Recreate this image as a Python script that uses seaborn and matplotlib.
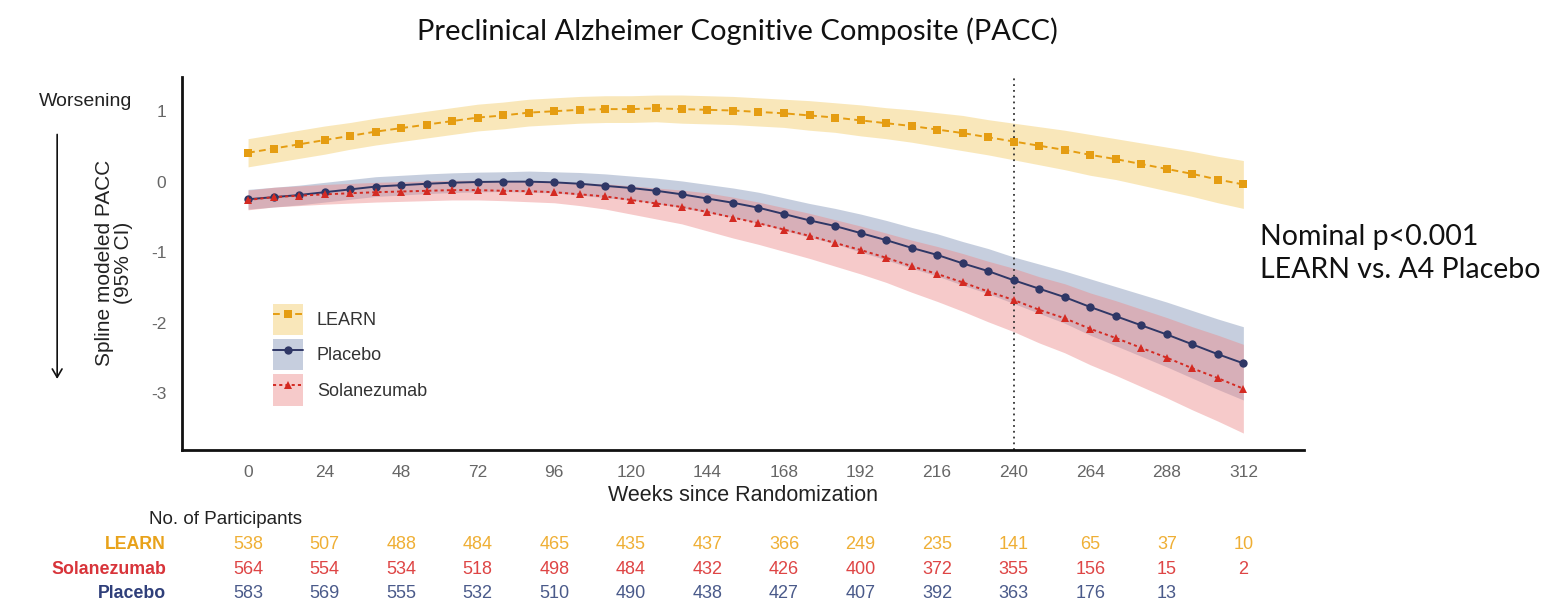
import numpy as np
import pandas as pd
import matplotlib
matplotlib.use("Agg")
import matplotlib.pyplot as plt
import matplotlib.transforms as mtransforms
from matplotlib.patches import Patch
from matplotlib.lines import Line2D
import seaborn as sns

# ---------------- data ----------------
weeks = list(range(0, 313, 8))

learn_mean = [0.41, 0.47, 0.53, 0.59, 0.65, 0.71, 0.76, 0.81, 0.86, 0.91, 0.94, 0.98, 1.00, 1.02,
              1.03, 1.03, 1.04, 1.03, 1.02, 1.01, 0.99, 0.97, 0.94, 0.91, 0.87, 0.83, 0.79, 0.74,
              0.69, 0.63, 0.57, 0.51, 0.45, 0.38, 0.32, 0.25, 0.18, 0.11, 0.03, -0.04]
placebo_mean = [-0.25, -0.22, -0.19, -0.15, -0.11, -0.07, -0.05, -0.03, -0.015, -0.005, 0.0, 0.0,
                -0.01, -0.03, -0.06, -0.09, -0.13, -0.18, -0.24, -0.30, -0.37, -0.46, -0.55, -0.63,
                -0.73, -0.83, -0.94, -1.04, -1.16, -1.27, -1.40, -1.52, -1.64, -1.78, -1.91, -2.04,
                -2.17, -2.31, -2.45, -2.58]
sola_mean = [-0.26, -0.22, -0.20, -0.18, -0.165, -0.15, -0.14, -0.13, -0.12, -0.12, -0.13, -0.135,
             -0.15, -0.18, -0.21, -0.26, -0.31, -0.36, -0.43, -0.51, -0.59, -0.68, -0.77, -0.87,
             -0.97, -1.08, -1.20, -1.31, -1.43, -1.56, -1.68, -1.82, -1.94, -2.09, -2.22, -2.36,
             -2.50, -2.65, -2.79, -2.94]

learn_hw = [0.20, 0.20, 0.20, 0.20, 0.19, 0.19, 0.19, 0.19, 0.19, 0.19, 0.19, 0.19, 0.19, 0.19,
            0.19, 0.19, 0.19, 0.20, 0.20, 0.20, 0.20, 0.20, 0.21, 0.21, 0.22, 0.22, 0.23, 0.24,
            0.25, 0.25, 0.26, 0.27, 0.28, 0.29, 0.29, 0.30, 0.31, 0.32, 0.33, 0.34]
placebo_hw = [0.14, 0.14, 0.14, 0.14, 0.14, 0.14, 0.14, 0.14, 0.14, 0.14, 0.14, 0.15, 0.15, 0.16,
              0.17, 0.17, 0.18, 0.19, 0.20, 0.21, 0.22, 0.23, 0.24, 0.25, 0.27, 0.28, 0.29, 0.30,
              0.31, 0.32, 0.33, 0.35, 0.37, 0.40, 0.42, 0.44, 0.46, 0.48, 0.50, 0.52]
sola_hw = [0.14, 0.14, 0.14, 0.14, 0.14, 0.14, 0.14, 0.14, 0.14, 0.14, 0.14, 0.15, 0.15, 0.16,
           0.18, 0.20, 0.22, 0.24, 0.27, 0.29, 0.30, 0.31, 0.32, 0.33, 0.34, 0.35, 0.37, 0.39,
           0.41, 0.43, 0.45, 0.47, 0.49, 0.51, 0.53, 0.55, 0.57, 0.59, 0.61, 0.63]

groups = ["LEARN", "Placebo", "Solanezumab"]

table_weeks = list(range(0, 313, 24))
table_rows = ["LEARN", "Solanezumab", "Placebo"]
n_learn = [538, 507, 488, 484, 465, 435, 437, 366, 249, 235, 141, 65, 37, 10]
n_sola = [564, 554, 534, 518, 498, 484, 432, 426, 400, 372, 355, 156, 15, 2]
n_placebo = [583, 569, 555, 532, 510, 490, 438, 427, 407, 392, 363, 176, 13]

title = "Preclinical Alzheimer Cognitive Composite (PACC)"
xlabel = "Weeks since Randomization"
ylabel = "Spline modeled PACC\n(95% CI)"
note = "Nominal p<0.001\nLEARN vs. A4 Placebo"

# ---------------- style ----------------
line_col = {"LEARN": "#E59D12", "Placebo": "#2F3766", "Solanezumab": "#D42A22"}
band_col = {"LEARN": "#F0C24A", "Placebo": "#8E9FBE", "Solanezumab": "#EC8A8A"}
band_alpha = {"LEARN": 0.38, "Placebo": 0.5, "Solanezumab": 0.45}
label_col = {"LEARN": "#E8A21A", "Solanezumab": "#D8343A", "Placebo": "#2F3F7A"}
num_col = {"LEARN": "#EFAF35", "Solanezumab": "#DE4545", "Placebo": "#4A5A8A"}
markers = {"LEARN": "s", "Placebo": "o", "Solanezumab": "^"}
dashes = {"LEARN": (3.5, 2.2), "Placebo": "", "Solanezumab": (1.6, 1.6)}

sns.set_theme(style="white")
plt.rcParams["axes.unicode_minus"] = False
plt.rcParams["font.family"] = ["Liberation Sans", "DejaVu Sans"]

df = pd.DataFrame({
    "week": weeks * 3,
    "pacc": learn_mean + placebo_mean + sola_mean,
    "hw": learn_hw + placebo_hw + sola_hw,
    "group": ["LEARN"] * len(weeks) + ["Placebo"] * len(weeks) + ["Solanezumab"] * len(weeks),
})

fig = plt.figure(figsize=(15.45, 6.04), dpi=100)
ax = fig.add_axes([0.1176, 0.255, 0.7264, 0.618])

for g in ["LEARN", "Placebo", "Solanezumab"]:
    sub = df[df.group == g]
    ax.fill_between(sub.week, sub.pacc - sub.hw, sub.pacc + sub.hw,
                    color=band_col[g], alpha=band_alpha[g], lw=0, zorder=1)

sns.lineplot(data=df, x="week", y="pacc", hue="group", style="group",
             palette=line_col, markers=markers, dashes=dashes, markersize=6,
             markeredgewidth=0, linewidth=1.4, legend=False, ax=ax, zorder=3)

ax.axvline(240, color="#333333", ls=(0, (1, 2.2)), lw=1.3, zorder=2)

ax.set_xlim(-20.8, 331)
ax.set_ylim(-3.81, 1.49)
ax.set_xticks(table_weeks)
ax.set_yticks([-3, -2, -1, 0, 1])
ax.set_yticklabels(["-3", "-2", "-1", "0", "1"])
for s in ["top", "right"]:
    ax.spines[s].set_visible(False)
for s in ["left", "bottom"]:
    ax.spines[s].set_linewidth(2.0)
    ax.spines[s].set_color("#111111")
ax.tick_params(axis="both", direction="out", length=5, width=1.6, color="#222222",
               labelcolor="#666666", labelsize=12.5, pad=6)
ax.set_xlabel("")
ax.set_ylabel(ylabel, fontsize=15, color="#222222", linespacing=1.0)
ax.yaxis.set_label_coords(-0.043, 0.5)

# legend
handles = []
for g in groups:
    h = (Patch(facecolor=band_col[g], alpha=band_alpha[g], edgecolor="none"),
         Line2D([], [], color=line_col[g], marker=markers[g], markersize=6, markeredgewidth=0,
                lw=1.4, dashes=dashes[g] if dashes[g] else (None, None)))
    handles.append(h)
leg = ax.legend(handles, groups, loc="upper left", bbox_to_anchor=(0.081, 0.392),
                frameon=False, fontsize=13, handlelength=1.7, handleheight=2.3,
                labelspacing=0.22, handletextpad=0.75, borderpad=0, borderaxespad=0)
for t in leg.get_texts():
    t.set_color("#333333")

# figure texts
fig.text(0.4775, 0.948, title, ha="center", va="center", fontsize=21,
         family=["Lato", "DejaVu Sans"], color="#111111")
fig.text(0.8155, 0.58, note, ha="left", va="center", fontsize=20.5,
         family=["Lato", "DejaVu Sans"], color="#111111", linespacing=1.35)
fig.text(0.025, 0.832, "Worsening", ha="left", va="center", fontsize=14, color="#222222")
fig.add_artist(matplotlib.patches.FancyArrowPatch((0.037, 0.782), (0.037, 0.368),
               transform=fig.transFigure, arrowstyle="->,head_length=6,head_width=3.5",
               color="#111111", lw=1.2, mutation_scale=1))

trans = mtransforms.blended_transform_factory(ax.transData, fig.transFigure)
fig.text(0.5, 0.18, xlabel, ha="center", va="center", fontsize=15.5, color="#222222",
         transform=mtransforms.blended_transform_factory(ax.transAxes, fig.transFigure))
fig.text(0.0965, 0.1407, "No. of Participants", ha="left", va="center", fontsize=13.5,
         color="#222222")
row_y = {"LEARN": 0.0982, "Solanezumab": 0.0563, "Placebo": 0.0182}
row_vals = {"LEARN": n_learn, "Solanezumab": n_sola, "Placebo": n_placebo}
for r in table_rows:
    fig.text(0.1075, row_y[r], r, ha="right", va="center", fontsize=12.8,
             fontweight="bold", color=label_col[r])
    for wk, v in zip(table_weeks, row_vals[r]):
        ax.text(wk, row_y[r], str(v), ha="center", va="center", fontsize=13,
                color=num_col[r], transform=trans, clip_on=False)

fig.savefig("out.png", dpi=100)
